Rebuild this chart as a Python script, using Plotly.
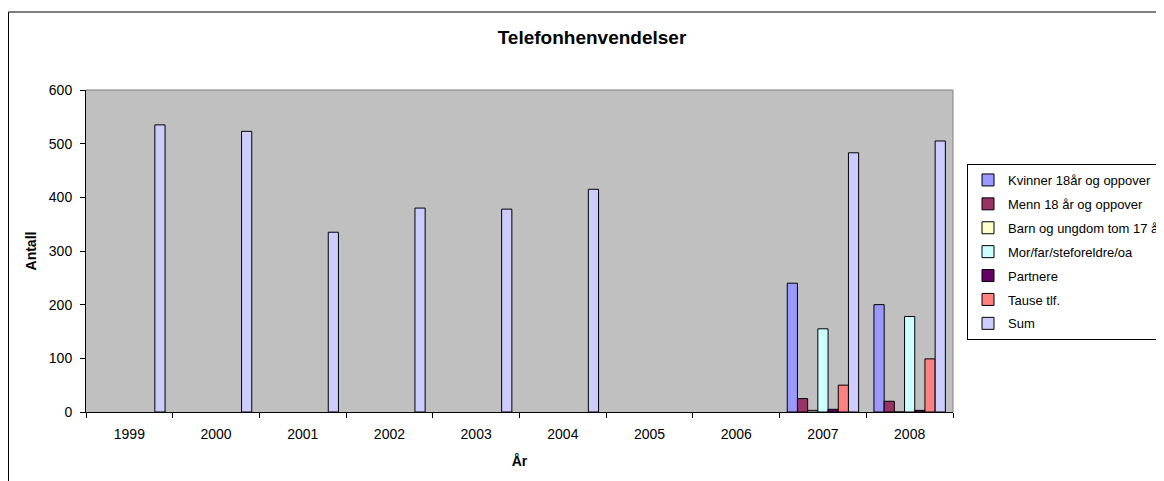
import plotly.graph_objects as go

# data
years = ["1999", "2000", "2001", "2002", "2003", "2004", "2005", "2006", "2007", "2008"]

kvinner = [None, None, None, None, None, None, None, None, 240, 200]
menn = [None, None, None, None, None, None, None, None, 25, 20]
barn = [None, None, None, None, None, None, None, None, 3, 0]
foreldre = [None, None, None, None, None, None, None, None, 155, 178]
partnere = [None, None, None, None, None, None, None, None, 5, 3]
tause = [None, None, None, None, None, None, None, None, 50, 99]
total = [535, 523, 335, 380, 378, 415, None, None, 483, 505]

series = [
    ("Kvinner 18år og oppover", kvinner, "#9999FF"),
    ("Menn 18 år og oppover", menn, "#993366"),
    ("Barn og ungdom tom 17 år", barn, "#FFFFCC"),
    ("Mor/far/steforeldre/oa", foreldre, "#CCFFFF"),
    ("Partnere", partnere, "#660066"),
    ("Tause tlf.", tause, "#FF8080"),
    ("Sum", total, "#CCCCFF"),
]

FONT = "Liberation Sans, Arial, sans-serif"

fig = go.Figure()
for i, (name, vals, color) in enumerate(series):
    fig.add_trace(go.Bar(
        x=years,
        y=vals,
        name=name,
        legendgroup=str(i),
        marker=dict(color=color, line=dict(color="black", width=1)),
    ))

# the page body has an 8px margin, so work in page pixels and shift by OFF
OFF = 8
W, H = 1164 - OFF, 481 - OFF
L, R, T, B = 86 - OFF, 953 - OFF, 90 - OFF, 412 - OFF
pw, ph = R - L, B - T

def px(x):
    return (x - OFF - L) / pw

def py(y):
    return (B - (y - OFF)) / ph

fig.update_layout(
    width=W,
    height=H,
    margin=dict(l=L, r=W - R, t=T, b=H - B, autoexpand=False),
    paper_bgcolor="white",
    plot_bgcolor="#C0C0C0",
    font=dict(family=FONT, size=14, color="black"),
    barmode="group",
    bargap=0.1765,
    bargroupgap=0,
    title=dict(
        text="<b>Telefonhenvendelser</b>",
        x=(592 - OFF) / W, xref="container", xanchor="center",
        y=1 - (37 - OFF) / H, yref="container", yanchor="middle",
        font=dict(family=FONT, size=19, color="black"),
    ),
    xaxis=dict(
        type="category",
        showline=True, linecolor="black", linewidth=1,
        ticks="outside", tickson="boundaries", ticklen=5, tickcolor="black",
        showgrid=False,
        tickfont=dict(size=14),
        ticklabelstandoff=9,
        title=dict(text="<b>År</b>", font=dict(size=14), standoff=15),
    ),
    yaxis=dict(
        range=[0, 600], dtick=100,
        showline=True, linecolor="black", linewidth=1,
        ticks="outside", ticklen=5, tickcolor="black",
        showgrid=False, zeroline=False,
        tickfont=dict(size=14),
        ticklabelstandoff=5,
        title=dict(text="<b>Antall</b>", font=dict(size=14), standoff=8),
    ),
    legend=dict(
        x=px(967), y=py(164), xanchor="left", yanchor="top",
        bordercolor="black", borderwidth=1, bgcolor="white",
        font=dict(family=FONT, size=13),
        tracegroupgap=4,
        traceorder="grouped",
    ),
    shapes=[
        # gray top/right border of plot area
        dict(type="line", xref="paper", yref="paper", x0=0, y0=1, x1=1, y1=1,
             line=dict(color="#808080", width=1)),
        dict(type="line", xref="paper", yref="paper", x0=1, y0=1, x1=1, y1=0,
             line=dict(color="#808080", width=1)),
        # outer chart border
        dict(type="rect", xref="paper", yref="paper",
             x0=px(8.5), y0=py(490), x1=px(1175), y1=py(12),
             line=dict(color="black", width=1), fillcolor="rgba(0,0,0,0)"),
    ],
)

fig.write_html("out.html")
